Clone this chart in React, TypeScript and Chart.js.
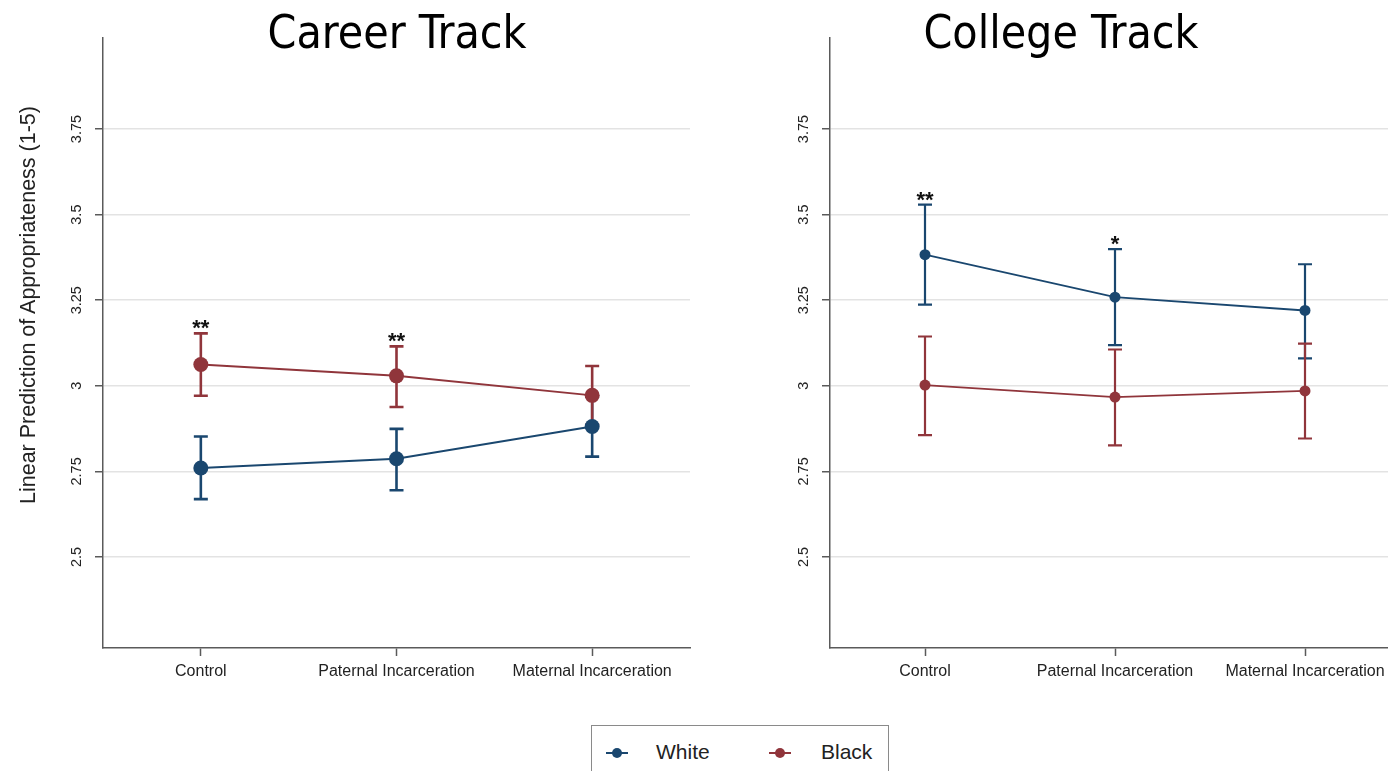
import React, { useEffect, useRef } from "react";
import { Chart, registerables } from "chart.js";

Chart.register(...registerables);

// ---- data ----
const categories = ["Control", "Paternal Incarceration", "Maternal Incarceration"];
const seriesNames = ["White", "Black"];
const panelTitles = ["Career Track", "College Track"];
const yAxisTitle = "Linear Prediction of Appropriateness (1-5)";
const yTickValues = [2.5, 2.75, 3, 3.25, 3.5, 3.75];
const yTickLabels = ["2.5", "2.75", "3", "3.25", "3.5", "3.75"];

// Career Track
const careerWhite = [2.760, 2.787, 2.881];
const careerWhiteLow = [2.669, 2.695, 2.793];
const careerWhiteHigh = [2.852, 2.874, 2.968];
const careerBlack = [3.062, 3.029, 2.972];
const careerBlackLow = [2.971, 2.938, 2.886];
const careerBlackHigh = [3.153, 3.115, 3.058];
const careerWhiteStars = ["", "", ""];
const careerBlackStars = ["**", "**", ""];

// College Track
const collegeWhite = [3.383, 3.259, 3.220];
const collegeWhiteLow = [3.237, 3.119, 3.080];
const collegeWhiteHigh = [3.529, 3.399, 3.355];
const collegeBlack = [3.002, 2.967, 2.985];
const collegeBlackLow = [2.856, 2.826, 2.846];
const collegeBlackHigh = [3.144, 3.106, 3.123];
const collegeWhiteStars = ["**", "*", ""];
const collegeBlackStars = ["", "", ""];

const NAVY = "#1a476f";
const MAROON = "#90353b";
const AXIS = "#5a5a5a";
const GRID = "#e3e3e3";
const FONT = "'Liberation Sans', Arial, Helvetica, sans-serif";

const errorBarPlugin = {
  id: "errorBars",
  beforeDatasetsDraw(chart: any, _args: any, opts: any) {
    const ctx = chart.ctx;
    const yScale = chart.scales.y;
    chart.data.datasets.forEach((ds: any, i: number) => {
      const meta = chart.getDatasetMeta(i);
      ctx.save();
      ctx.strokeStyle = ds.borderColor;
      ctx.lineWidth = opts.width;
      ctx.lineCap = "butt";
      meta.data.forEach((pt: any, j: number) => {
        const lo = yScale.getPixelForValue(ds.errLow[j]);
        const hi = yScale.getPixelForValue(ds.errHigh[j]);
        ctx.beginPath();
        ctx.moveTo(pt.x, lo);
        ctx.lineTo(pt.x, hi);
        ctx.moveTo(pt.x - opts.cap, lo);
        ctx.lineTo(pt.x + opts.cap, lo);
        ctx.moveTo(pt.x - opts.cap, hi);
        ctx.lineTo(pt.x + opts.cap, hi);
        ctx.stroke();
      });
      ctx.restore();
    });
  },
  afterDatasetsDraw(chart: any, _args: any, opts: any) {
    const ctx = chart.ctx;
    const yScale = chart.scales.y;
    chart.data.datasets.forEach((ds: any, i: number) => {
      const meta = chart.getDatasetMeta(i);
      meta.data.forEach((pt: any, j: number) => {
        const s = ds.stars ? ds.stars[j] : "";
        if (!s) return;
        const hi = yScale.getPixelForValue(ds.errHigh[j]);
        ctx.save();
        ctx.fillStyle = "#111";
        ctx.font = `bold 22px ${FONT}`;
        ctx.textAlign = "center";
        ctx.textBaseline = "alphabetic";
        ctx.fillText(s, pt.x, hi + opts.starOffset);
        ctx.restore();
      });
    });
  },
};

function makeConfig(
  white: number[], whiteLow: number[], whiteHigh: number[], whiteStars: string[],
  black: number[], blackLow: number[], blackHigh: number[], blackStars: string[],
  style: { radius: number; line: number; err: number; cap: number; padRight: number }
): any {
  return {
    type: "line",
    data: {
      labels: categories,
      datasets: [
        {
          label: seriesNames[0], data: white, errLow: whiteLow, errHigh: whiteHigh, stars: whiteStars,
          borderColor: NAVY, backgroundColor: NAVY, pointBackgroundColor: NAVY, pointBorderColor: NAVY,
          borderWidth: style.line, pointRadius: style.radius, pointBorderWidth: 0, tension: 0,
        },
        {
          label: seriesNames[1], data: black, errLow: blackLow, errHigh: blackHigh, stars: blackStars,
          borderColor: MAROON, backgroundColor: MAROON, pointBackgroundColor: MAROON, pointBorderColor: MAROON,
          borderWidth: style.line, pointRadius: style.radius, pointBorderWidth: 0, tension: 0,
        },
      ],
    },
    plugins: [errorBarPlugin],
    options: {
      animation: false,
      responsive: false,
      events: [],
      layout: { padding: { top: 38, left: 0, right: style.padRight, bottom: 0 } },
      plugins: {
        legend: { display: false },
        tooltip: { enabled: false },
        errorBars: { width: style.err, cap: style.cap, starOffset: 2 },
      },
      scales: {
        x: {
          type: "category",
          offset: true,
          grid: { drawOnChartArea: false, drawTicks: true, tickLength: 8, tickColor: AXIS, tickWidth: 1.5 },
          border: { color: AXIS, width: 1.5 },
          ticks: { color: "#222", font: { family: FONT, size: 16 }, padding: 6, maxRotation: 0, minRotation: 0, autoSkip: false },
          afterFit: (s: any) => { s.height = 52; },
        },
        y: {
          type: "linear",
          min: 2.234,
          max: 4.016,
          afterBuildTicks: (s: any) => { s.ticks = yTickValues.map((v) => ({ value: v })); },
          grid: { color: GRID, lineWidth: 1.5, drawTicks: true, tickLength: 8, tickColor: AXIS, tickWidth: 1.5 },
          border: { color: AXIS, width: 1.5 },
          ticks: {
            color: "#222", font: { family: FONT, size: 14.5 }, padding: 4,
            minRotation: 90, maxRotation: 90, crossAlign: "center",
            callback: (_v: any, i: number) => yTickLabels[i],
          },
          afterFit: (s: any) => { s.width = 103; },
        },
      },
    },
  };
}

export default function App() {
  const leftRef = useRef<HTMLCanvasElement>(null);
  const rightRef = useRef<HTMLCanvasElement>(null);

  useEffect(() => {
    const c1 = new Chart(leftRef.current as HTMLCanvasElement, makeConfig(
      careerWhite, careerWhiteLow, careerWhiteHigh, careerWhiteStars,
      careerBlack, careerBlackLow, careerBlackHigh, careerBlackStars,
      { radius: 7.5, line: 2, err: 2.6, cap: 7, padRight: 10 }
    ));
    const c2 = new Chart(rightRef.current as HTMLCanvasElement, makeConfig(
      collegeWhite, collegeWhiteLow, collegeWhiteHigh, collegeWhiteStars,
      collegeBlack, collegeBlackLow, collegeBlackHigh, collegeBlackStars,
      { radius: 5.5, line: 1.8, err: 2.2, cap: 7, padRight: 27 }
    ));
    return () => { c1.destroy(); c2.destroy(); };
  }, []);

  const titleStyle = (cx: number): React.CSSProperties => ({
    position: "absolute", left: cx - 300, width: 600, top: 9, textAlign: "center",
    fontFamily: "'DejaVu Sans Condensed', 'DejaVu Sans', sans-serif", fontStretch: "condensed",
    fontSize: 46, lineHeight: "46px", color: "#000", whiteSpace: "nowrap",
  });

  const legendText: React.CSSProperties = {
    position: "absolute", top: 14, fontFamily: FONT, fontSize: 21, lineHeight: "24px", color: "#222",
  };

  return (
    <div style={{ position: "fixed", left: 0, top: 0, width: 1388, height: 771, overflow: "hidden", background: "#fff" }}>
      <canvas ref={leftRef} width={700} height={700} style={{ position: "absolute", left: 0, top: 0, width: 700, height: 700 }} />
      <canvas ref={rightRef} width={700} height={700} style={{ position: "absolute", left: 727, top: 0, width: 700, height: 700 }} />
      <div style={titleStyle(397)}>{panelTitles[0]}</div>
      <div style={titleStyle(1061)}>{panelTitles[1]}</div>
      <div style={{
        position: "absolute", left: 28 - 250, top: 305 - 12, width: 500, height: 24, lineHeight: "24px",
        textAlign: "center", transform: "rotate(-90deg)", transformOrigin: "50% 50%",
        fontFamily: FONT, fontSize: 21.5, color: "#222", whiteSpace: "nowrap",
      }}>{yAxisTitle}</div>
      <div style={{ position: "absolute", left: 591, top: 725, width: 298, height: 70, border: "1.5px solid #8a8a8a", boxSizing: "border-box", background: "#fff" }}>
        <div style={{ position: "absolute", left: 14, top: 26, width: 22, height: 2, background: NAVY }} />
        <div style={{ position: "absolute", left: 20, top: 22, width: 10, height: 10, borderRadius: 5, background: NAVY }} />
        <div style={{ ...legendText, left: 64 }}>{seriesNames[0]}</div>
        <div style={{ position: "absolute", left: 177, top: 26, width: 22, height: 2, background: MAROON }} />
        <div style={{ position: "absolute", left: 183, top: 22, width: 10, height: 10, borderRadius: 5, background: MAROON }} />
        <div style={{ ...legendText, left: 229 }}>{seriesNames[1]}</div>
      </div>
    </div>
  );
}
